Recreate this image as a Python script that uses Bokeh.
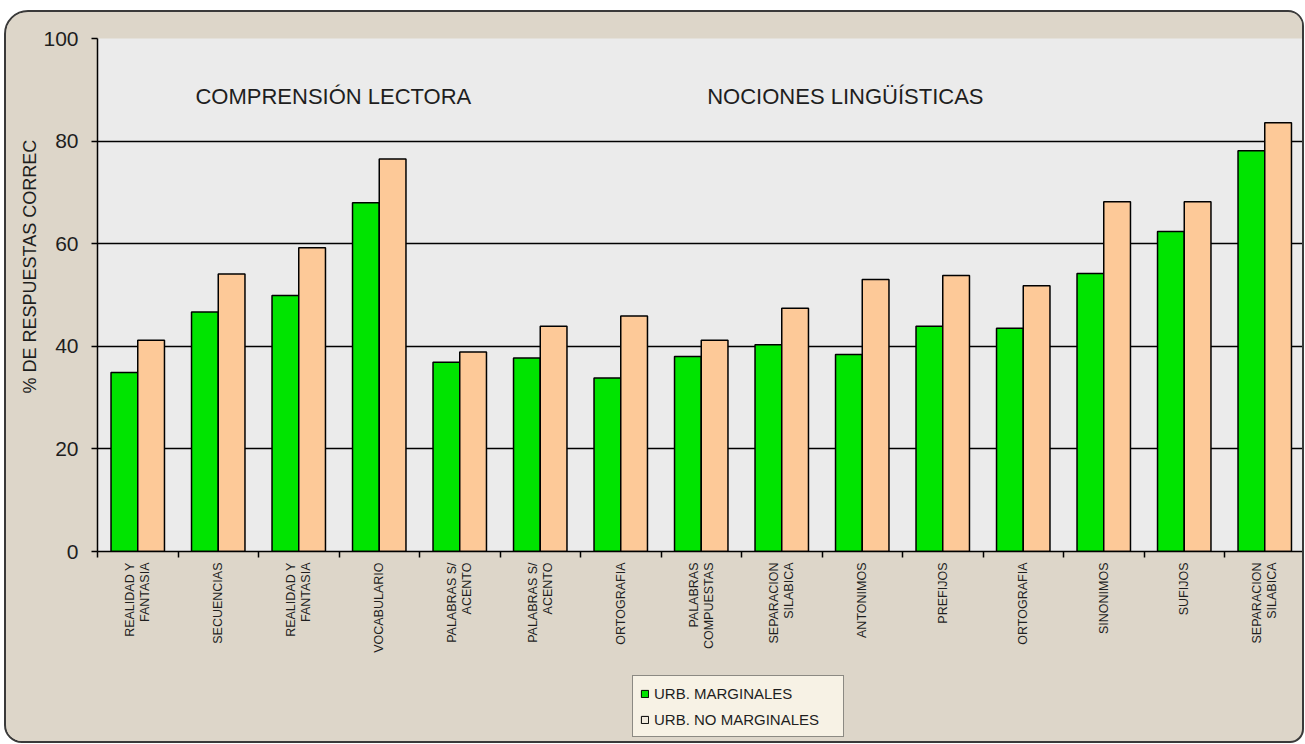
import numpy as np
from bokeh.plotting import figure
from bokeh.layouts import column
from bokeh.models import (ColumnDataSource, Range1d, FixedTicker, Legend, LegendItem,
                          Label, LinearAxis, Title)
from bokeh.transform import dodge
from bokeh.embed import file_html
from bokeh.resources import INLINE

# ---------------- data ----------------
categories = ["REALIDAD Y\nFANTASIA", "SECUENCIAS", "REALIDAD Y\nFANTASIA", "VOCABULARIO",
              "PALABRAS S/\nACENTO", "PALABRAS S/\nACENTO", "ORTOGRAFIA",
              "PALABRAS\nCOMPUESTAS", "SEPARACION\nSILABICA", "ANTONIMOS", "PREFIJOS",
              "ORTOGRAFIA", "SINONIMOS", "SUFIJOS", "SEPARACION\nSILABICA"]
marginales = [34.9, 46.7, 49.9, 68.0, 36.9, 37.7, 33.8, 38.0, 40.3, 38.4, 43.9, 43.5, 54.2, 62.4, 78.1]
no_marginales = [41.2, 54.1, 59.2, 76.5, 38.9, 43.9, 45.9, 41.2, 47.4, 53.0, 53.8, 51.8, 68.2, 68.2, 83.6]
series_names = ["URB. MARGINALES", "URB. NO MARGINALES"]
section_titles = ["COMPRENSIÓN LECTORA", "NOCIONES LINGÜÍSTICAS"]
y_label = "% DE RESPUESTAS CORREC"
y_ticks = [0, 20, 40, 60, 80, 100]

# ---------------- styles ----------------
FONT = "Liberation Sans"
GREEN = "#00e400"
ORANGE = "#fdc998"
LEGEND_LIGHT = "#efe9dc"
OUTER = "#ddd6c9"
INNER = "#ebebeb"
TXT = "#1e1e1e"

n = len(categories)
centers = [i + 0.5 for i in range(n)]
bounds = [i for i in range(n + 1)]

W = 1296
H1, H2 = 650, 79
frame_left = 91
frame_w = W - frame_left
cat_px = 80.5

src = ColumnDataSource(dict(x=centers, m=marginales, nm=no_marginales))

p = figure(width=W, height=H1, output_backend="svg", toolbar_location=None,
           x_range=Range1d(0, frame_w / cat_px), y_range=Range1d(0, 100),
           x_axis_type=None,
           min_border_left=frame_left, min_border_right=0,
           min_border_top=26, min_border_bottom=111)
p.background_fill_color = INNER
p.border_fill_color = OUTER
p.outline_line_color = None

# y axis
ya = p.yaxis[0]
ya.ticker = FixedTicker(ticks=y_ticks)
ya.major_tick_out = 6
ya.major_tick_in = 0
ya.minor_tick_line_color = None
ya.axis_line_color = "black"
ya.axis_line_width = 1.5
ya.major_tick_line_color = "black"
ya.major_tick_line_width = 1.5
ya.major_label_text_font = FONT
ya.major_label_text_font_size = "21px"
ya.major_label_text_color = TXT
ya.major_label_standoff = 13

# y axis title (side panel title so it sits outside the plot area)
p.add_layout(Title(text=y_label, align="left", offset=158, text_font=FONT,
                   text_font_size="18px", text_font_style="normal", text_color=TXT,
                   standoff=2), "left")

# grid
p.xgrid.visible = False
p.ygrid.ticker = FixedTicker(ticks=y_ticks[1:-1])
p.ygrid.grid_line_color = "black"
p.ygrid.grid_line_width = 1.5

# x axis: labels at category centers, tick marks at category boundaries
xa = LinearAxis(ticker=FixedTicker(ticks=centers, minor_ticks=bounds),
                major_label_overrides={c: lab for c, lab in zip(centers, categories)},
                axis_line_color="black", axis_line_width=1.5,
                major_tick_line_color=None, major_tick_out=0, major_tick_in=0,
                minor_tick_line_color="black", minor_tick_line_width=1.5,
                minor_tick_out=6, minor_tick_in=0,
                major_label_standoff=5, major_label_orientation=np.pi / 2,
                major_label_text_font=FONT, major_label_text_font_size="12.5px",
                major_label_text_line_height=1.05,
                major_label_text_color=TXT)
p.add_layout(xa, "below")

# bars
p.vbar(x=dodge("x", -0.166, range=p.x_range), top="m", width=0.332, source=src,
       fill_color=GREEN, line_color="black", line_width=1.5)
p.vbar(x=dodge("x", 0.166, range=p.x_range), top="nm", width=0.332, source=src,
       fill_color=ORANGE, line_color="black", line_width=1.5)

# section titles
p.add_layout(Label(x=2.93, y=88.7, text=section_titles[0], text_align="center",
                   text_baseline="middle", text_font=FONT, text_font_size="22px",
                   text_color=TXT))
p.add_layout(Label(x=9.29, y=88.7, text=section_titles[1], text_align="center",
                   text_baseline="middle", text_font=FONT, text_font_size="22px",
                   text_color=TXT))

# ---------------- legend strip (lower part of the card) ----------------
q = figure(width=W, height=H2, output_backend="svg", toolbar_location=None,
           x_axis_type=None, y_axis_type=None, x_range=Range1d(-100, -99),
           y_range=Range1d(0, 1),
           min_border_left=0, min_border_right=0, min_border_top=0, min_border_bottom=0)
q.background_fill_color = None
q.border_fill_color = OUTER
q.outline_line_color = None
q.grid.visible = False
# swatch renderers (their bars fall outside this strip's range; only the legend shows)
sw1 = q.vbar(x="x", top="m", width=0.3, source=src, fill_color=GREEN, line_color="black")
sw2 = q.vbar(x="x", top="nm", width=0.3, source=src, fill_color=LEGEND_LIGHT,
             line_color="black")
legend = Legend(items=[LegendItem(label=series_names[0], renderers=[sw1]),
                       LegendItem(label=series_names[1], renderers=[sw2])],
                location=(535, 4), orientation="vertical",
                label_text_font=FONT, label_text_font_size="15px", label_text_color=TXT,
                glyph_width=9, glyph_height=9, label_height=20, label_width=182,
                label_standoff=5, padding=7, spacing=6, margin=0,
                background_fill_color="#f7f2e5", background_fill_alpha=1.0,
                border_line_color="#222222", border_line_width=1.2)
q.add_layout(legend, "center")

layout = column(p, q, spacing=0)
layout.styles = {"border": "2px solid #3a3a3a", "border-radius": "24px 16px 14px 18px",
                 "overflow": "hidden", "margin": "10px 0px 0px 4px",
                 "background-color": OUTER}

open("out.html", "w").write(file_html(layout, INLINE))
